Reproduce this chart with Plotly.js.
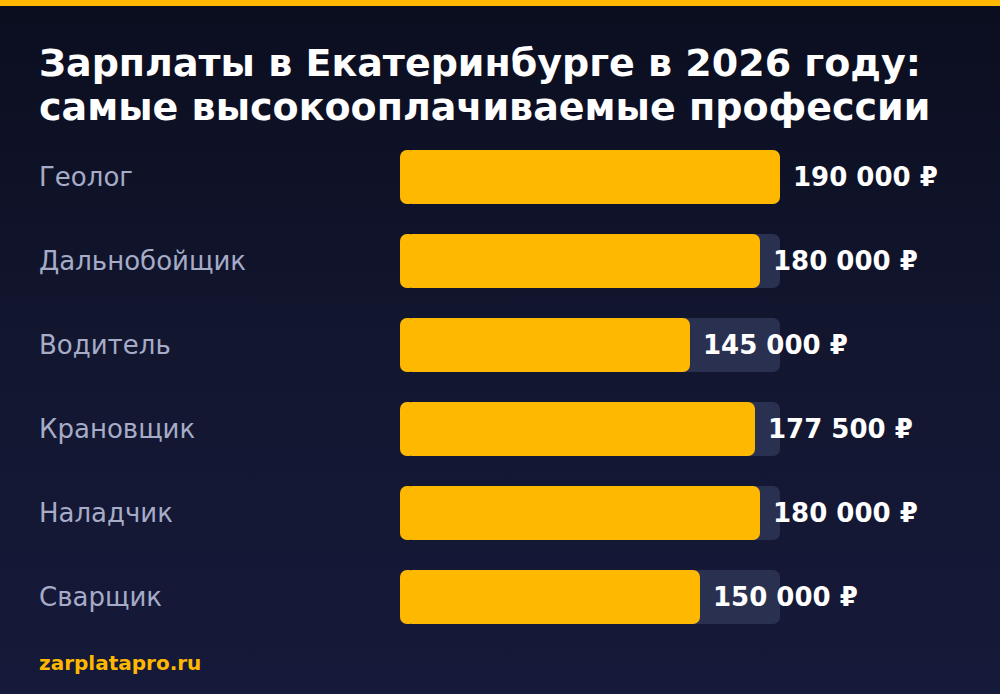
<!DOCTYPE html>
<html>
<head>
<meta charset="utf-8">
<script src="https://cdn.plot.ly/plotly-3.0.1.min.js"></script>
<style>
html,body{margin:0;padding:0;}
#chart{width:1000px;height:694px;background:linear-gradient(180deg,#0b0e1f 0%,#12162f 50%,#161a3a 100%);}
</style>
</head>
<body>
<div id="chart"></div>
<script>
const professions = ["Геолог","Дальнобойщик","Водитель","Крановщик","Наладчик","Сварщик"];
const salaries = [190000,180000,145000,177500,180000,150000];
const salaryLabels = ["190 000 ₽","180 000 ₽","145 000 ₽","177 500 ₽","180 000 ₽","150 000 ₽"];
const titleLines = ["Зарплаты в Екатеринбурге в 2026 году:","самые высокооплачиваемые профессии"];
const sourceText = "zarplatapro.ru";
const maxSalary = Math.max(...salaries);

const W = 1000, H = 694;
const mL = 400, mR = 220, mT = 135, mB = 55;
const plotW = W - mL - mR, plotH = H - mT - mB;
const px = v => (v - mL) / plotW;            // pixel x -> paper x
const py = v => (mT + plotH - v) / plotH;    // pixel y -> paper y

// Plotly rounds only the outer tip of a bar. To round both ends, the axis is
// offset by SHIFT: salary s sits at axis value s - SHIFT. Each bar is a short
// negative piece (rounded tip on the left) plus a positive piece (rounded tip on the right).
const SHIFT = 5000;
function barPieces(values, color) {
  const common = {type: 'bar', orientation: 'h', y: professions,
    marker: {color: color, cornerradius: 7, line: {width: 0}}, hoverinfo: 'skip', showlegend: false};
  return [
    Object.assign({}, common, {x: values.map(() => -SHIFT)}),
    Object.assign({}, common, {x: values.map(v => v - SHIFT / 2), base: values.map(() => -SHIFT / 2)})
  ];
}

const traces = [
  ...barPieces(professions.map(() => maxSalary), '#2a3050'),
  ...barPieces(salaries, '#FFB800')
];

const annotations = [];
professions.forEach((p, i) => {
  annotations.push({
    xref: 'paper', yref: 'y', x: px(40), y: p, xshift: -3,
    xanchor: 'left', yanchor: 'middle', showarrow: false,
    text: p, font: {family: 'DejaVu Sans', size: 26, color: '#a6acc8'}
  });
  annotations.push({
    xref: 'x', yref: 'y', x: salaries[i] - SHIFT, y: p,
    xanchor: 'left', yanchor: 'middle', xshift: 11, showarrow: false,
    text: '<b>' + salaryLabels[i] + '</b>',
    font: {family: 'DejaVu Sans', size: 26, color: '#ffffff'}
  });
});
const titleMid = [63, 107];
titleLines.forEach((t, i) => {
  annotations.push({
    xref: 'paper', yref: 'paper', x: px(40), y: py(titleMid[i]), xshift: -3,
    xanchor: 'left', yanchor: 'middle', showarrow: false,
    text: '<b>' + t + '</b>', font: {family: 'DejaVu Sans', size: 38, color: '#ffffff'}
  });
});
annotations.push({
  xref: 'paper', yref: 'paper', x: px(40), y: py(663), xshift: -3,
  xanchor: 'left', yanchor: 'middle', showarrow: false,
  text: '<b>' + sourceText + '</b>', font: {family: 'DejaVu Sans', size: 20, color: '#FFB800'}
});

const layout = {
  width: W, height: H,
  margin: {l: mL, r: mR, t: mT, b: mB, pad: 0},
  paper_bgcolor: 'rgba(0,0,0,0)', plot_bgcolor: 'rgba(0,0,0,0)',
  barmode: 'overlay', bargap: 1 - 54/84,
  xaxis: {range: [-SHIFT, maxSalary - SHIFT], visible: false, fixedrange: true},
  yaxis: {autorange: 'reversed', visible: false, fixedrange: true, type: 'category'},
  annotations: annotations,
  shapes: [{
    type: 'rect', xref: 'paper', yref: 'paper',
    x0: px(0), x1: px(W),
    y0: py(6), y1: py(0),
    fillcolor: '#FFB800', line: {width: 0}, layer: 'above'
  }]
};

Plotly.newPlot('chart', traces, layout, {displayModeBar: false, staticPlot: true});
</script>
</body>
</html>
